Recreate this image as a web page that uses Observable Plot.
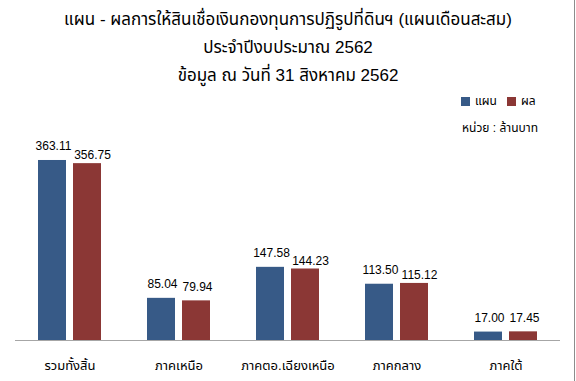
<!DOCTYPE html>
<html>
<head>
<meta charset="utf-8">
<script src="https://cdn.jsdelivr.net/npm/d3@7"></script>
<script src="https://cdn.jsdelivr.net/npm/@observablehq/plot@0.6"></script>
<style>
  html, body { margin: 0; padding: 0; background: #fff; }
  #wrap { position: relative; width: 576px; height: 381px; overflow: hidden; font-family: Tahoma, "Liberation Sans", "Noto Sans Thai", "Noto Sans", sans-serif; color: #000; }
  #wrap svg { position: absolute; left: 0; top: 0; }
  .title { position: absolute; left: 0; width: 576px; text-align: center; font-size: 17px; line-height: 20px; }
  .legend { position: absolute; font-size: 12px; line-height: 14px; display: flex; align-items: center; }
  .sw { display: inline-block; width: 9px; height: 9px; margin-right: 5px; }
  .border { position: absolute; left: 574px; top: 0; width: 1px; height: 381px; background: #8c8c8c; }
</style>
</head>
<body>
<div id="wrap"></div>
<script>
const titleLines = [
  "แผน - ผลการให้สินเชื่อเงินกองทุนการปฏิรูปที่ดินฯ (แผนเดือนสะสม)",
  "ประจำปีงบประมาณ 2562",
  "ข้อมูล ณ วันที่ 31 สิงหาคม 2562"
];
const unitLabel = "หน่วย : ล้านบาท";
const categories = ["รวมทั้งสิ้น", "ภาคเหนือ", "ภาคตอ.เฉียงเหนือ", "ภาคกลาง", "ภาคใต้"];
const seriesNames = ["แผน", "ผล"];
const planValues = [363.11, 85.04, 147.58, 113.50, 17.00];
const actualValues = [356.75, 79.94, 144.23, 115.12, 17.45];
const seriesColors = ["#375a87", "#8b3735"];

const data = categories.flatMap((c, i) => [
  {cat: c, s: seriesNames[0], v: planValues[i]},
  {cat: c, s: seriesNames[1], v: actualValues[i]}
]);

const fontFam = 'Tahoma, "Liberation Sans", "Noto Sans Thai", "Noto Sans", sans-serif';

const chart = Plot.plot({
  width: 576,
  height: 381,
  marginLeft: 13,
  marginRight: 15,
  marginTop: 141.7,
  marginBottom: 41,
  style: {fontFamily: fontFam, fontSize: "12px", color: "#000", background: "transparent"},
  fx: {domain: categories, padding: 0, label: null, axis: "bottom", tickSize: 0, tickPadding: 20},
  x: {domain: seriesNames, paddingInner: 0.194, paddingOuter: 0.619, axis: null},
  y: {domain: [0, 400], axis: null},
  color: {domain: seriesNames, range: seriesColors},
  marks: [
    Plot.barY(data, {fx: "cat", x: "s", y: "v", fill: "s"}),
    Plot.ruleY([0], {stroke: "#a6a6a6", strokeWidth: 1}),
    Plot.text(data.filter(d => !(d.s === seriesNames[1] && d.v >= 100)), {
      fx: "cat", x: "s", y: "v", text: d => d.v.toFixed(2), dy: -14, dx: 1, fontSize: 12, fill: "#000"
    }),
    Plot.text(data.filter(d => d.s === seriesNames[1] && d.v >= 100), {
      fx: "cat", x: "s", y: "v", text: d => d.v.toFixed(2), dy: -8, dx: 5, fontSize: 12, fill: "#000"
    })
  ]
});

const wrap = document.getElementById("wrap");
wrap.appendChild(chart);
chart.querySelectorAll("g[aria-label='fx-axis tick label'] text").forEach(t => t.setAttribute("font-size", "13"));

titleLines.forEach((t, i) => {
  const d = document.createElement("div");
  d.className = "title";
  d.style.top = (10 + i * 28) + "px";
  d.textContent = t;
  wrap.appendChild(d);
});

const leg = document.createElement("div");
leg.className = "legend";
leg.style.left = "461px";
leg.style.top = "94px";
leg.innerHTML = seriesNames.map((n, i) =>
  `<span class="sw" style="background:${seriesColors[i]}"></span><span style="margin-right:10px">${n}</span>`).join("");
wrap.appendChild(leg);

const unit = document.createElement("div");
unit.className = "legend";
unit.style.left = "462px";
unit.style.top = "121px";
unit.textContent = unitLabel;
wrap.appendChild(unit);

const b = document.createElement("div");
b.className = "border";
wrap.appendChild(b);
</script>
</body>
</html>
